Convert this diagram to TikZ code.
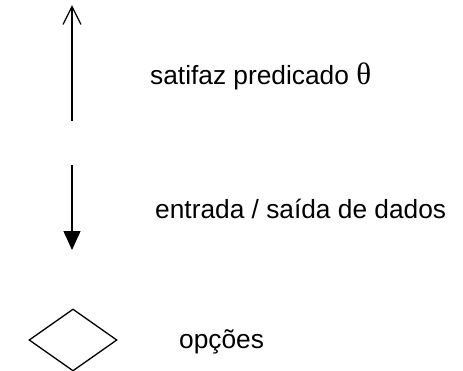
\documentclass[tikz,border=0pt]{standalone}
\usepackage{fontspec}
\setmainfont{Liberation Sans}
\newfontfamily\thetafont{Liberation Serif}
\usetikzlibrary{arrows.meta,shapes.geometric}
\begin{document}
\begin{tikzpicture}[x=1pt,y=-1pt,
  conn/.style={line width=1.3pt},
  lbl/.style={anchor=base west,inner sep=0pt,font=\fontsize{26.3}{30}\selectfont}]
\useasboundingbox (0,0) rectangle (463,370);
\coordinate (upA) at (72,121);
\coordinate (upB) at (72,5);
\coordinate (dnA) at (72,165);
\coordinate (dnB) at (72,250);
\draw[conn,-{Straight Barb[length=18pt,width=18pt,line width=1.3pt]}] (upA) -- (upB);
\draw[conn,-{Triangle[length=19pt,width=17pt]}] (dnA) -- (dnB);
\node[diamond,draw,line width=1.3pt,aspect=1.42,minimum width=88pt,minimum height=62pt,inner sep=0pt] (opt) at (73,340) {};
\node[lbl] (t1) at (150,84) {satifaz predicado {\thetafont\fontsize{31}{30}\selectfont θ}};
\node[lbl] (t2) at (155,218) {entrada / saída de dados};
\node[lbl] (t3) at (179,348) {opções};
\end{tikzpicture}
\end{document}
